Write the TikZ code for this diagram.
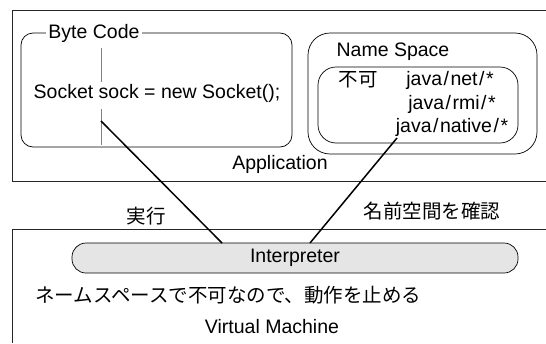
\documentclass[tikz,border=0pt]{standalone}
\usepackage{fontspec}
\setmainfont{Liberation Sans}
\newfontfamily\jafont{Noto Sans CJK JP}
\usepackage{tikz}
\usetikzlibrary{positioning}
\newcommand{\pathsep}{\kern1.5pt/\kern1.5pt}
\tikzstyle{frame} = [draw=black!85, line width=0.8pt]
\tikzstyle{roundbox} = [draw, line width=0.7pt, inner sep=0pt]
\tikzstyle{link} = [line width=1.5pt]
\tikzstyle{txt} = [font=\fontsize{19.5}{22}\selectfont, inner sep=1pt]
\tikzstyle{jtxt} = [font=\jafont\fontsize{19.5}{22}\selectfont, inner sep=1pt]

\begin{document}
\begin{tikzpicture}[x=1pt,y=-1pt]
	\useasboundingbox (0,0) rectangle (546,343);
	% Application
	\draw[frame] (546,10) -- (12,10) -- (12,181) -- (546,181);
	\node[txt] (app) at (280,164) {Application};
	\node[roundbox, rounded corners=12pt, minimum width=271pt, minimum height=114pt] (bytecode) at (156.5,90) {};
	\node[txt, fill=white, inner xsep=2pt] (bclabel) at (94,33) {Byte Code};
	\node[txt] (code) at (157,93) {Socket sock = new Socket();};
	\draw[gray, line width=0.4pt] (101,48) -- (101,82);
	\draw[gray, line width=0.4pt] (101,109) -- (101,145);
	\coordinate (run) at (101,121);
	% Name Space
	\node[roundbox, rounded corners=22pt, minimum width=229pt, minimum height=121pt] (ns) at (422.5,93.5) {};
	\node[txt] (nslabel) at (393,52) {Name Space};
	\node[roundbox, rounded corners=18pt, minimum width=200pt, minimum height=76pt] (deny) at (418,105) {};
	\node[jtxt] (fuka) at (358,80) {不可};
	\node[txt] (net) at (450,80) {java\pathsep net\pathsep *};
	\node[txt] (rmi) at (452,104) {java\pathsep rmi\pathsep *};
	\node[txt] (native) at (452,127) {java\pathsep native\pathsep *};
	\coordinate (check) at (397,138);
	% Virtual Machine
	\draw[frame] (546,229) -- (12,229) -- (12,343);
	\node[roundbox, rounded corners=14pt, fill=black!10, minimum width=446pt, minimum height=30pt] (interp) at (295,258) {};
	\node[txt] (interplabel) at (295,258) {Interpreter};
	\coordinate (runend) at (222,243);
	\coordinate (checkend) at (310,243);
	\draw[link] (run) -- (runend);
	\draw[link] (check) -- (checkend);
	\node[jtxt] (runlabel) at (146,216) {実行};
	\node[jtxt] (checklabel) at (432,211) {名前空間を確認};
	\node[jtxt, anchor=west] (stop) at (34,295) {ネームスペースで不可なので、動作を止める};
	\node[txt] (vm) at (272,327) {Virtual Machine};
\end{tikzpicture}
\end{document}
